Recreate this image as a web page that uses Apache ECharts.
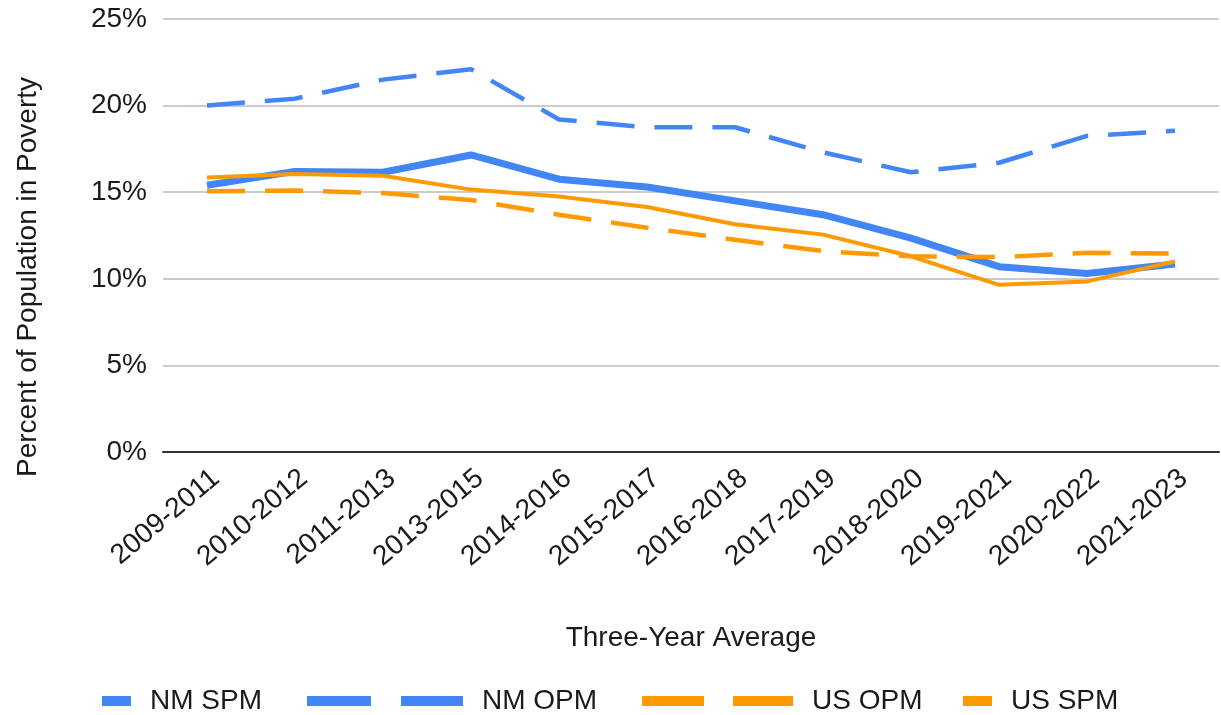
<!DOCTYPE html>
<html>
<head>
<meta charset="utf-8">
<title>Poverty rates</title>
<script src="https://cdn.jsdelivr.net/npm/echarts@6/dist/echarts.min.js"></script>
<style>
  html, body { margin: 0; padding: 0; background: #fff; }
  #chart { width: 1221px; height: 715px; }
</style>
</head>
<body>
<div id="chart"></div>
<script>
// three-year averages on the x axis
const periods = ["2009-2011", "2010-2012", "2011-2013", "2013-2015", "2014-2016", "2015-2017",
  "2016-2018", "2017-2019", "2018-2020", "2019-2021", "2020-2022", "2021-2023"];

// percent of population in poverty
const nmSpm = [20.0, 20.4, 21.5, 22.1, 19.2, 18.75, 18.75, 17.3, 16.15, 16.7, 18.25, 18.55];
const nmOpm = [15.4, 16.2, 16.15, 17.15, 15.75, 15.3, 14.5, 13.7, 12.35, 10.7, 10.3, 10.85];
const usOpm = [15.85, 16.05, 15.95, 15.15, 14.75, 14.15, 13.15, 12.55, 11.3, 9.65, 9.85, 11.0];
const usSpm = [15.05, 15.1, 14.95, 14.55, 13.7, 12.95, 12.25, 11.6, 11.3, 11.25, 11.5, 11.45];

const yTicks = [0, 5, 10, 15, 20, 25];

const BLUE = "#4285F4";
const ORANGE = "#FF9900";
const FONT = "Liberation Sans, Arial, sans-serif";
const TXT = "#1a1a1a";
const FS = 28;

const chart = echarts.init(document.getElementById("chart"));

// legend blocks, each with its own icon width
const legendBase = {
  orient: "horizontal",
  top: 682,
  itemHeight: 10,
  selectedMode: false,
  itemStyle: { borderWidth: 0 },
  textStyle: { fontFamily: FONT, fontSize: FS, color: TXT, padding: [0, 0, 0, 14] }
};

const option = {
  animation: false,
  backgroundColor: "#fff",
  grid: {
    left: 163,
    right: 2,
    top: 19,
    bottom: 263,
    containLabel: false,
    outerBoundsMode: "none"
  },
  legend: [
    Object.assign({}, legendBase, { left: 97, itemWidth: 29, icon: "rect", data: ["NM SPM"] }),
    Object.assign({}, legendBase, {
      left: 302, itemWidth: 156,
      icon: "path://M0,0h64v10h-64z M94,0h62v10h-62z",
      data: ["NM OPM"]
    }),
    Object.assign({}, legendBase, {
      left: 637, itemWidth: 151,
      icon: "path://M0,0h62v10h-62z M91,0h60v10h-60z",
      data: ["US OPM"]
    }),
    Object.assign({}, legendBase, { left: 958, itemWidth: 29, icon: "rect", data: ["US SPM"] })
  ],
  xAxis: {
    type: "category",
    data: periods,
    boundaryGap: true,
    name: "Three-Year Average",
    nameLocation: "middle",
    nameGap: 172,
    nameTextStyle: { fontFamily: FONT, fontSize: FS, color: TXT },
    axisLine: { lineStyle: { color: "#333", width: 2 } },
    axisTick: { show: false },
    axisLabel: {
      rotate: 40,
      margin: 12,
      interval: 0,
      verticalAlign: "top",
      fontFamily: FONT,
      fontSize: FS,
      color: TXT
    }
  },
  yAxis: {
    type: "value",
    min: yTicks[0],
    max: yTicks[yTicks.length - 1],
    interval: 5,
    name: "Percent of Population in Poverty",
    nameLocation: "middle",
    nameGap: 121,
    nameTextStyle: { fontFamily: FONT, fontSize: FS, color: TXT, padding: [0, 83, 0, 0] },
    axisLine: { show: false },
    axisTick: { show: false },
    splitLine: { lineStyle: { color: "#cccccc", width: 2 } },
    axisLabel: {
      margin: 16,
      fontFamily: FONT,
      fontSize: FS,
      color: TXT,
      formatter: "{value}%"
    }
  },
  series: [
    {
      name: "NM SPM",
      type: "line",
      data: nmSpm,
      showSymbol: false,
      color: BLUE,
      lineStyle: { color: BLUE, width: 4.5, type: [38, 20] }
    },
    {
      name: "NM OPM",
      type: "line",
      data: nmOpm,
      showSymbol: false,
      color: BLUE,
      lineStyle: { color: BLUE, width: 7 }
    },
    {
      name: "US OPM",
      type: "line",
      data: usOpm,
      showSymbol: false,
      color: ORANGE,
      lineStyle: { color: ORANGE, width: 4 }
    },
    {
      name: "US SPM",
      type: "line",
      data: usSpm,
      showSymbol: false,
      color: ORANGE,
      lineStyle: { color: ORANGE, width: 4.5, type: [38, 20] }
    }
  ]
};

chart.setOption(option);
</script>
</body>
</html>
